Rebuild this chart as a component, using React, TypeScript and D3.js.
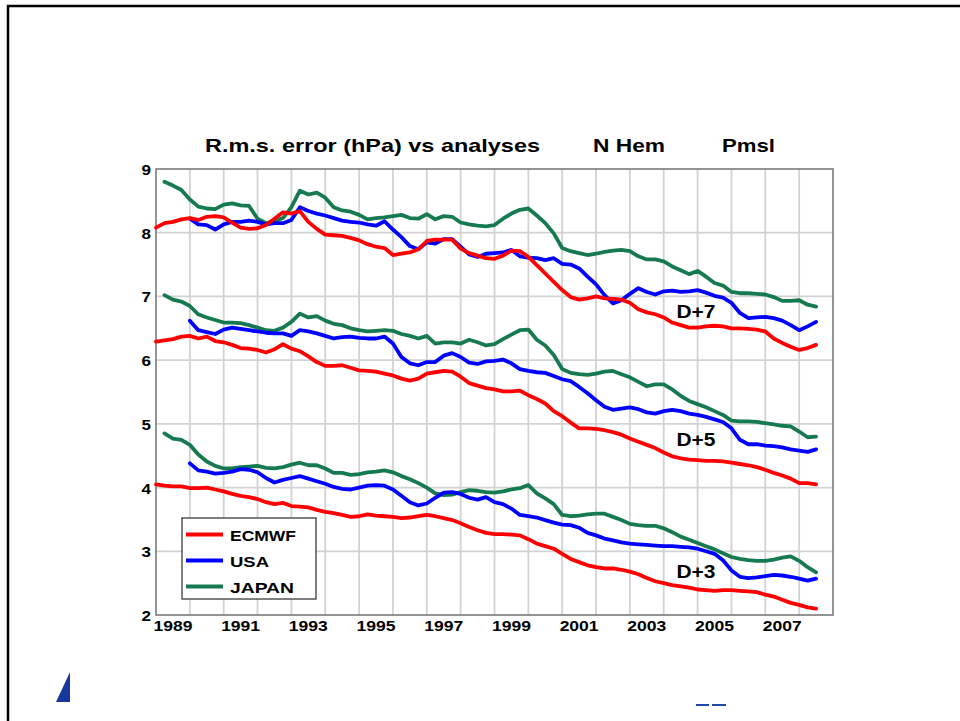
import React from "react";
import * as d3 from "d3";

// quarterly samples, value at start + i * step (years)
const step = 0.25;
const seriesNames = ["ECMWF", "USA", "JAPAN"];
const seriesColors = ["#ff0000", "#0000ff", "#167a50"];
const seriesStart = [1989, 1990, 1989.25];
const leadLabels = ["D+7", "D+5", "D+3"];
const yTicks = [2, 3, 4, 5, 6, 7, 8, 9];
const yearLabels = [1989, 1991, 1993, 1995, 1997, 1999, 2001, 2003, 2005, 2007];

const ecmwfD7 = [
  8.08, 8.15, 8.17, 8.21, 8.23, 8.2, 8.25, 8.26, 8.24, 8.16, 8.08, 8.06,
  8.07, 8.12, 8.22, 8.32, 8.3, 8.34, 8.17, 8.06, 7.97, 7.96, 7.95, 7.92,
  7.88, 7.82, 7.78, 7.76, 7.65, 7.67, 7.69, 7.74, 7.87, 7.89, 7.89, 7.89,
  7.75, 7.68, 7.64, 7.6, 7.59, 7.64, 7.72, 7.71, 7.62, 7.49, 7.36, 7.23,
  7.1, 6.99, 6.95, 6.97, 7.0, 6.97, 6.96, 6.95, 6.9, 6.8, 6.75, 6.72,
  6.67, 6.59, 6.55, 6.51, 6.51, 6.53, 6.54, 6.53, 6.5, 6.5, 6.49, 6.48,
  6.45, 6.34, 6.27, 6.21, 6.16, 6.19, 6.24,
];
const usaD7 = [
  8.22, 8.13, 8.12, 8.05, 8.13, 8.17, 8.17, 8.19, 8.17, 8.13, 8.15, 8.15,
  8.2, 8.4, 8.34, 8.3, 8.27, 8.23, 8.19, 8.17, 8.16, 8.13, 8.11, 8.18,
  8.05, 7.93, 7.79, 7.74, 7.85, 7.83, 7.9, 7.9, 7.78, 7.66, 7.62, 7.67,
  7.68, 7.69, 7.73, 7.63, 7.61, 7.6, 7.57, 7.6, 7.51, 7.5, 7.44, 7.31,
  7.19, 7.02, 6.89, 6.94, 7.04, 7.13, 7.07, 7.03, 7.08, 7.09, 7.07, 7.08,
  7.1, 7.06, 7.01, 6.98, 6.9, 6.74, 6.66, 6.67, 6.68, 6.66, 6.62, 6.55,
  6.47, 6.53, 6.6,
];
const japanD7 = [
  8.8, 8.74, 8.67, 8.52, 8.41, 8.38, 8.37, 8.44, 8.46, 8.43, 8.42,
  8.22, 8.15, 8.18, 8.23, 8.4, 8.66, 8.6, 8.63, 8.55, 8.4, 8.35, 8.33,
  8.28, 8.21, 8.23, 8.24, 8.26, 8.28, 8.23, 8.22, 8.29, 8.21, 8.26, 8.25,
  8.16, 8.13, 8.11, 8.1, 8.12, 8.22, 8.3, 8.36, 8.38, 8.27, 8.15, 7.99,
  7.76, 7.71, 7.68, 7.65, 7.67, 7.7, 7.72, 7.73, 7.71, 7.63, 7.58, 7.58,
  7.55, 7.47, 7.41, 7.35, 7.4, 7.31, 7.21, 7.17, 7.07, 7.05, 7.05, 7.04,
  7.03, 6.99, 6.93, 6.93, 6.94, 6.87, 6.84,
];

const ecmwfD5 = [
  6.29, 6.31, 6.33, 6.37, 6.38, 6.34, 6.37, 6.3, 6.28, 6.24, 6.19, 6.18,
  6.16, 6.12, 6.17, 6.25, 6.18, 6.14, 6.06, 5.97, 5.91, 5.91, 5.92, 5.88,
  5.84, 5.83, 5.82, 5.79, 5.76, 5.71, 5.68, 5.71, 5.79, 5.81, 5.83, 5.82,
  5.74, 5.64, 5.6, 5.56, 5.54, 5.51, 5.51, 5.52, 5.45, 5.39, 5.32, 5.2,
  5.12, 5.02, 4.93, 4.93, 4.92, 4.9, 4.87, 4.83, 4.77, 4.72, 4.67, 4.62,
  4.55, 4.49, 4.46, 4.44, 4.43, 4.42, 4.42, 4.41, 4.39, 4.37, 4.35, 4.32,
  4.28, 4.23, 4.19, 4.14, 4.07, 4.07, 4.05,
];
const usaD5 = [
  6.62, 6.47, 6.44, 6.41, 6.48, 6.51, 6.49, 6.47, 6.45, 6.43, 6.42, 6.42,
  6.38, 6.47, 6.45, 6.42, 6.38, 6.34, 6.36, 6.37, 6.35, 6.34, 6.34, 6.37,
  6.26, 6.05, 5.95, 5.92, 5.97, 5.97, 6.07, 6.11, 6.05, 5.96, 5.94, 5.98,
  5.99, 6.01, 5.95, 5.86, 5.83, 5.81, 5.8, 5.75, 5.7, 5.67, 5.58, 5.48,
  5.37, 5.27, 5.22, 5.24, 5.26, 5.23, 5.18, 5.16, 5.2, 5.22, 5.2, 5.16,
  5.14, 5.11, 5.07, 5.03, 4.93, 4.75, 4.68, 4.68, 4.66, 4.65, 4.63, 4.6,
  4.58, 4.56, 4.6,
];
const japanD5 = [
  7.02, 6.95, 6.92, 6.85, 6.72, 6.67, 6.63, 6.59, 6.59, 6.58, 6.55,
  6.51, 6.47, 6.46, 6.51, 6.6, 6.73, 6.67, 6.69, 6.62, 6.57, 6.55, 6.5,
  6.47, 6.45, 6.46, 6.47, 6.46, 6.41, 6.38, 6.34, 6.38, 6.26, 6.28, 6.28,
  6.26, 6.32, 6.28, 6.23, 6.25, 6.33, 6.4, 6.47, 6.48, 6.32, 6.23, 6.08,
  5.86, 5.8, 5.78, 5.77, 5.79, 5.82, 5.83, 5.78, 5.73, 5.66, 5.59, 5.62,
  5.62, 5.54, 5.44, 5.36, 5.31, 5.26, 5.2, 5.14, 5.05, 5.04, 5.04, 5.03,
  5.01, 4.99, 4.97, 4.96, 4.88, 4.79, 4.8,
];

const ecmwfD3 = [
  4.05, 4.03, 4.02, 4.02, 3.99, 3.99, 4.0, 3.97, 3.94, 3.9, 3.87, 3.85,
  3.82, 3.77, 3.74, 3.76, 3.71, 3.7, 3.69, 3.65, 3.62, 3.6, 3.57, 3.54,
  3.55, 3.58, 3.56, 3.55, 3.54, 3.52, 3.53, 3.55, 3.57, 3.55, 3.52, 3.49,
  3.44, 3.38, 3.33, 3.29, 3.27, 3.27, 3.26, 3.25, 3.19, 3.12, 3.08, 3.04,
  2.96, 2.88, 2.83, 2.78, 2.75, 2.73, 2.73, 2.71, 2.68, 2.64, 2.58, 2.53,
  2.5, 2.47, 2.45, 2.43, 2.4, 2.39, 2.38, 2.39, 2.39, 2.38, 2.37, 2.36,
  2.32, 2.29, 2.24, 2.19, 2.16, 2.12, 2.1,
];
const usaD3 = [
  4.38, 4.27, 4.25, 4.22, 4.23, 4.25, 4.29, 4.28, 4.24, 4.15, 4.08, 4.12,
  4.15, 4.18, 4.14, 4.1, 4.06, 4.01, 3.98, 3.97, 4.0, 4.03, 4.04, 4.03,
  3.97, 3.87, 3.77, 3.72, 3.75, 3.84, 3.92, 3.93, 3.9, 3.84, 3.81, 3.85,
  3.77, 3.74, 3.67, 3.57, 3.55, 3.53, 3.49, 3.45, 3.42, 3.41, 3.37, 3.29,
  3.25, 3.2, 3.17, 3.14, 3.12, 3.11, 3.1, 3.09, 3.08, 3.08, 3.07, 3.06,
  3.04, 3.0, 2.96, 2.86, 2.7, 2.6, 2.58, 2.59, 2.61, 2.63, 2.62, 2.6,
  2.57, 2.54, 2.57,
];
const japanD3 = [
  4.85, 4.77, 4.75, 4.67, 4.52, 4.41, 4.34, 4.3, 4.3, 4.32, 4.33,
  4.34, 4.31, 4.3, 4.32, 4.36, 4.39, 4.35, 4.35, 4.3, 4.23, 4.23, 4.2,
  4.21, 4.24, 4.25, 4.27, 4.24, 4.18, 4.13, 4.07, 4.0, 3.91, 3.88, 3.89,
  3.93, 3.96, 3.95, 3.93, 3.92, 3.94, 3.97, 3.99, 4.04, 3.91, 3.83, 3.74,
  3.57, 3.55, 3.56, 3.58, 3.59, 3.59, 3.54, 3.49, 3.43, 3.41, 3.4, 3.4,
  3.36, 3.3, 3.23, 3.18, 3.13, 3.08, 3.03, 2.97, 2.91, 2.88, 2.86, 2.85,
  2.85, 2.87, 2.9, 2.92, 2.85, 2.75, 2.67,
];

// [ECMWF, USA, JAPAN] for each lead time
const groups = [
  [ecmwfD7, usaD7, japanD7],
  [ecmwfD5, usaD5, japanD5],
  [ecmwfD3, usaD3, japanD3],
];
// where the lead-time labels sit (year, value)
const leadLabelYear = 2004.95;
const leadLabelValue = [6.76, 4.75, 2.69];

const W = 960;
const H = 721;
const plot = { left: 156, right: 833, top: 169, bottom: 615 };
const font = "'Liberation Sans', Arial, Helvetica, sans-serif";

const x = d3.scaleLinear().domain([1989, 2009]).range([plot.left, plot.right]);
const y = d3.scaleLinear().domain([2, 9]).range([plot.bottom, plot.top]);

type Pt = [number, number];
const line = d3
  .line<Pt>()
  .x((d) => x(d[0]))
  .y((d) => y(d[1]));

const toPoints = (vals: number[], start: number): Pt[] =>
  vals.map((v, i) => [start + i * step, v]);

// stretched bold text (the slide was widened, text is wider than normal)
const Label = ({ tx, ty, text, size, width, anchor = "start" }: any) => (
  <text
    x={tx}
    y={ty}
    fontFamily={font}
    fontWeight="bold"
    fontSize={size}
    textAnchor={anchor}
    textLength={width}
    lengthAdjust="spacingAndGlyphs"
    fill="#000"
  >
    {text}
  </text>
);

export default function App() {
  return (
    <div style={{ position: "absolute", left: 0, top: 0 }}>
      <svg width={W} height={H} style={{ display: "block", background: "#fff" }}>
        {/* slide frame */}
        <line x1={8} x2={8} y1={5} y2={H} stroke="#000" strokeWidth={2.5} />
        <line x1={7} x2={W} y1={6} y2={6} stroke="#000" strokeWidth={2.5} />

        {/* title */}
        <Label tx={205} ty={152} text="R.m.s. error (hPa) vs analyses" size={18.5} width={335} />
        <Label tx={593} ty={152} text="N Hem" size={18.5} width={72} />
        <Label tx={722} ty={152} text="Pmsl" size={18.5} width={53} />

        {/* grid */}
        <g stroke="#d2d2d2" strokeWidth={1.8}>
          {d3.range(1990, 2009).map((yr) => (
            <line key={yr} x1={x(yr)} x2={x(yr)} y1={plot.top} y2={plot.bottom} />
          ))}
          {yTicks.slice(1, -1).map((v) => (
            <line key={v} x1={plot.left} x2={plot.right} y1={y(v)} y2={y(v)} />
          ))}
        </g>
        <rect
          x={plot.left}
          y={plot.top}
          width={plot.right - plot.left}
          height={plot.bottom - plot.top}
          fill="none"
          stroke="#7a7a7a"
          strokeWidth={1.6}
        />

        {/* y tick labels */}
        {yTicks.map((v) => (
          <Label key={v} tx={151} ty={y(v) + 6} text={String(v)} size={15.5} width={9.5} anchor="end" />
        ))}
        {/* x tick labels, centred mid-year */}
        {yearLabels.map((yr) => (
          <Label key={yr} tx={x(yr + 0.5)} ty={631} text={String(yr)} size={15.5} width={39} anchor="middle" />
        ))}

        {/* series */}
        <g fill="none" strokeWidth={3.8} strokeLinejoin="round" strokeLinecap="round">
          {groups.map((g, gi) =>
            [2, 1, 0].map((si) => (
              <path
                key={`${gi}-${si}`}
                d={line(toPoints(g[si], seriesStart[si])) || ""}
                stroke={seriesColors[si]}
              />
            ))
          )}
        </g>

        {/* lead-time labels */}
        {leadLabels.map((t, i) => (
          <Label
            key={t}
            tx={x(leadLabelYear)}
            ty={y(leadLabelValue[i]) + 6.5}
            text={t}
            size={18.5}
            width={39}
            anchor="middle"
          />
        ))}

        {/* legend */}
        <rect x={182} y={518} width={134} height={81} fill="#fff" stroke="#555" strokeWidth={1.5} />
        {seriesNames.map((n, i) => (
          <g key={n}>
            <line
              x1={186}
              x2={223}
              y1={534.5 + i * 26}
              y2={534.5 + i * 26}
              stroke={seriesColors[i]}
              strokeWidth={4}
            />
            <Label
              tx={230}
              ty={540.5 + i * 26}
              text={n}
              size={15}
              width={[66, 39, 64][i]}
            />
          </g>
        ))}

        {/* logo fragments at the slide bottom */}
        <path d="M70,672 L70,702 L56,702 Z" fill="#15389a" />
        <rect x={696} y={704} width={13} height={2} fill="#1f47b0" />
        <rect x={712} y={704} width={14} height={2} fill="#1f47b0" />
      </svg>
    </div>
  );
}
